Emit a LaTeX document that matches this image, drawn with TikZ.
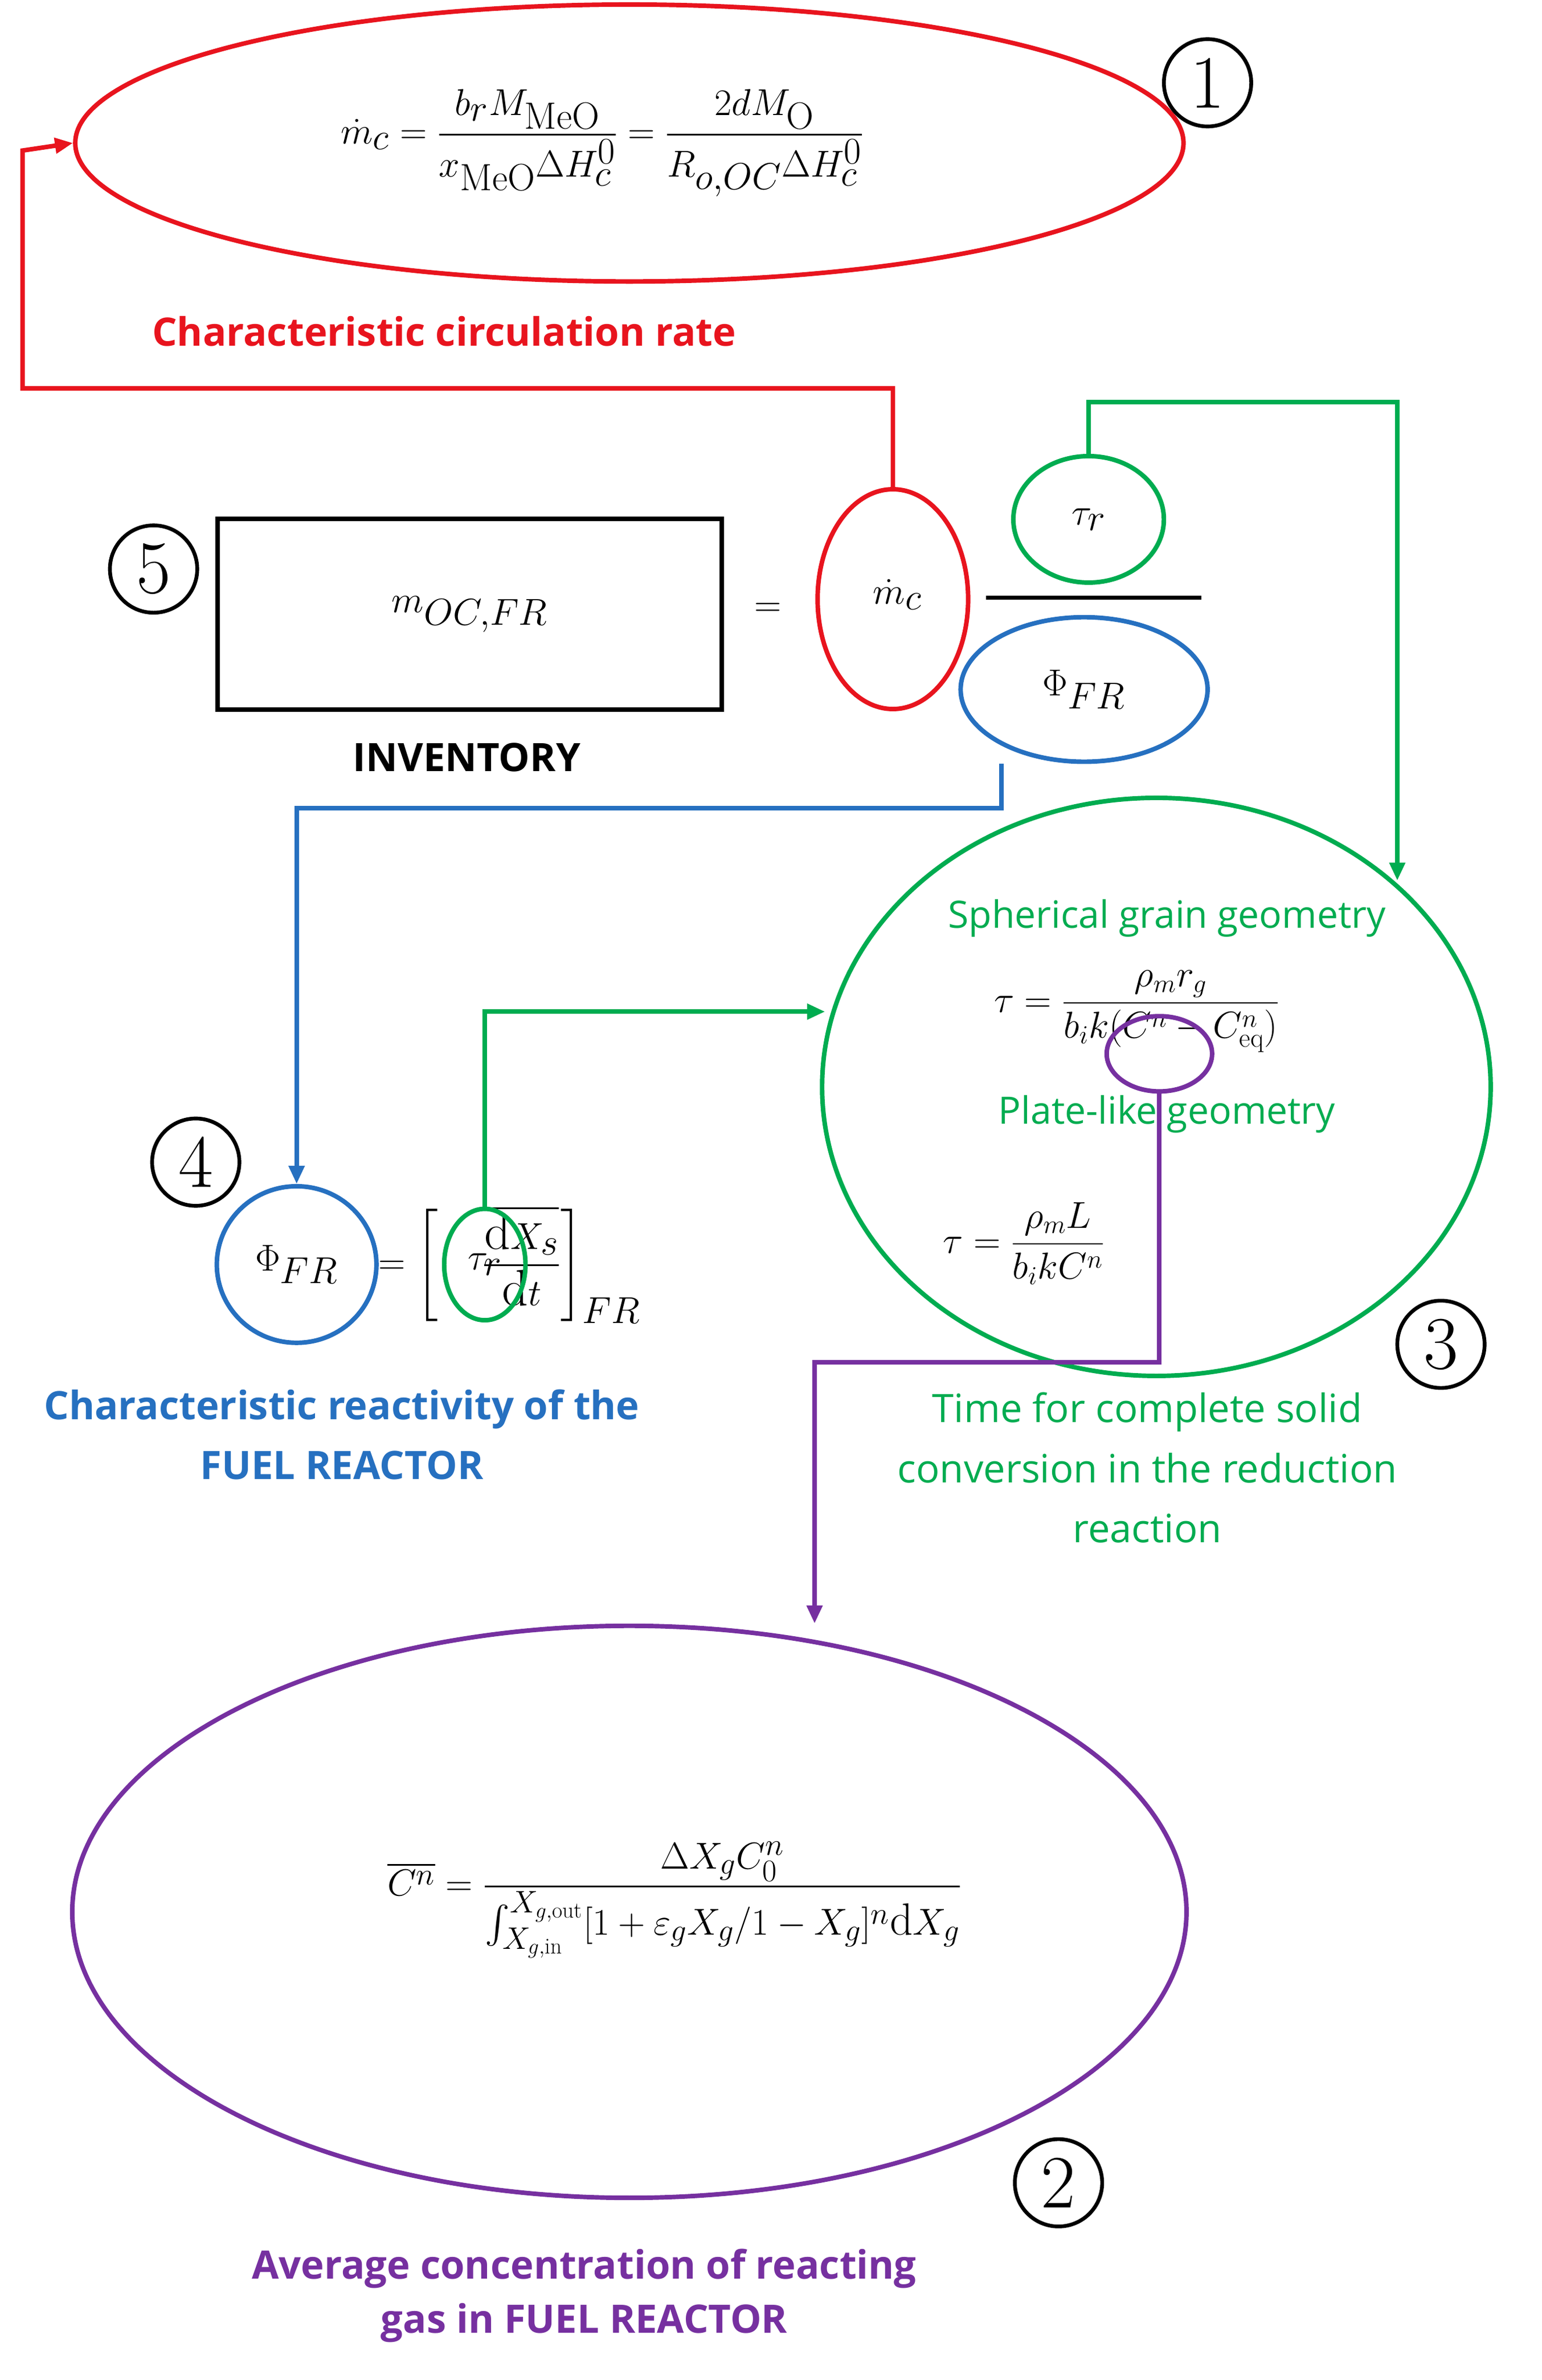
\documentclass[tikz,border=0pt]{standalone}
\usepackage{amsmath}
\usepackage{fontspec}
\newfontfamily\capf{Open Sans}
\definecolor{cred}{RGB}{232,20,30}
\definecolor{cgreen}{RGB}{0,172,80}
\definecolor{cblue}{RGB}{38,112,192}
\definecolor{cpurple}{RGB}{118,48,160}
\usetikzlibrary{arrows.meta}
\tikzset{
  ell/.style={draw,ellipse,line width=3pt,inner sep=0pt},
  conn/.style={line width=3pt,-{Triangle[length=12pt,width=10pt]}},
  connn/.style={line width=3pt},
  captxt/.style={font=\capf\bfseries\fontsize{26}{36}\selectfont,align=center},
  num/.style={draw,circle,line width=2.5pt,minimum size=58pt,inner sep=0pt,font=\fontsize{50}{50}\selectfont},
}
\usetikzlibrary{shapes.geometric}
\begin{document}
\begin{tikzpicture}[x=1pt,y=-1pt]
\useasboundingbox[fill=white] (0,0) rectangle (1024,1581);
% 1
\node[ell,draw=cred,minimum width=736pt,minimum height=184pt] (e1) at (418,95) {};
\node[font=\fontsize{36}{40}\selectfont] (f1) at (400,95) {$\dot m_c=\dfrac{b_r M_{\mathrm{MeO}}}{x_{\mathrm{MeO}}\Delta H_c^0}=\dfrac{2dM_{\mathrm{O}}}{R_{o,OC}\Delta H_c^0}$};
\node[num] (n1) at (802,55) {1};
\node[captxt,text=cred] (c1) at (295,220) {Characteristic circulation rate};
% 5
\node[draw,line width=3pt,minimum width=335pt,minimum height=127pt,font=\fontsize{64}{64}\selectfont] (box) at (312,408) {$m_{OC,FR}$};
\node[num] (n5) at (102,378) {5};
\node[font=\fontsize{64}{64}\selectfont] (eq5) at (510,405) {$=$};
\node[ell,draw=cred,minimum width=100pt,minimum height=146pt] (mc) at (593,398) {};
\node[font=\fontsize{64}{64}\selectfont] (mct) at (596,395) {$\dot m_c$};
\node[ell,draw=cgreen,minimum width=100pt,minimum height=84pt,font=\fontsize{56}{56}\selectfont] (tau) at (723,345) {$\tau_r$};
\node[ell,draw=cblue,minimum width=164pt,minimum height=96pt,font=\fontsize{52}{52}\selectfont] (phi) at (720,458) {$\Phi_{FR}$};
\coordinate (fl1) at (655,397); \coordinate (fl2) at (798,397);
\draw[line width=2.5pt] (fl1) -- (fl2);
\node[font=\capf\bfseries\fontsize{26}{30}\selectfont] (inv) at (310,503) {INVENTORY};
% 3
\node[ell,draw=cgreen,minimum width=444pt,minimum height=384pt] (g3) at (768,722) {};
\node[font=\capf\fontsize{25}{30}\selectfont,text=cgreen] (sg) at (775,610) {Spherical grain geometry};
\node[font=\fontsize{26}{30}\selectfont] (ft1) at (755,672) {$\tau=\dfrac{\rho_m r_g}{b_i k(C^n-C^n_{\mathrm{eq}})}$};
\node[draw=cpurple,ellipse,line width=3pt,minimum width=70pt,minimum height=50pt] (pc) at (770,700) {};
\node[font=\capf\fontsize{25}{30}\selectfont,text=cgreen] (pl) at (775,740) {Plate-like geometry};
\node[font=\fontsize{26}{30}\selectfont] (ft2) at (680,826) {$\tau=\dfrac{\rho_m L}{b_i kC^n}$};
\node[num] (n3) at (957,893) {3};
\node[captxt,text=cgreen,font=\capf\fontsize{26}{40}\selectfont] (c3) at (762,975) {Time for complete solid\\conversion in the reduction\\reaction};
% 4
\node[num] (n4) at (130,772) {4};
\node[ell,draw=cblue,minimum width=106pt,minimum height=104pt,font=\fontsize{34}{34}\selectfont] (phi4) at (197,840) {$\Phi_{FR}$};
\node[font=\fontsize{34}{40}\selectfont,anchor=west] (f4) at (248,840) {$=\left[\;\phantom{\tau_r}\dfrac{\overline{\mathrm{d}X_s}}{\mathrm{d}t}\right]_{FR}$};
\node[ell,draw=cgreen,minimum width=54pt,minimum height=74pt,font=\fontsize{34}{34}\selectfont] (tau4) at (322,840) {$\tau_r$};
\node[captxt,text=cblue,font=\capf\bfseries\fontsize{26}{40}\selectfont] (c4) at (227,953) {Characteristic reactivity of the\\FUEL REACTOR};
% 2
\node[ell,draw=cpurple,minimum width=740pt,minimum height=380pt] (p2) at (418,1270) {};
\node[font=\fontsize{30}{36}\selectfont] (f2) at (448,1262) {$\overline{C^n}=\dfrac{\Delta X_g C_0^n}{\int_{X_{g,\mathrm{in}}}^{X_{g,\mathrm{out}}}[1+\varepsilon_g X_g/1-X_g]^n\mathrm{d}X_g}$};
\node[num] (n2) at (703,1450) {2};
\node[captxt,text=cpurple] (c2) at (388,1525) {Average concentration of reacting\\gas in FUEL REACTOR};
% connectors
\coordinate (r1) at (593,258); \coordinate (r2) at (15,258); \coordinate (r3) at (15,100);
\draw[connn,cred,-{Triangle[length=12pt,width=10pt]}] (mc.north) -- (r1) -- (r2) -- (r3) -- (e1.west);
\coordinate (g1) at (723,267); \coordinate (g2) at (928,267); \coordinate (g3b) at (928,585);
\draw[conn,cgreen] (tau.north) -- (g1) -- (g2) -- (g3b);
\coordinate (b1) at (665,537); \coordinate (b2) at (197,537);
\draw[conn,cblue] (phi.south -| b1) -- (b1) -- (b2) -- (phi4.north);
\coordinate (h1) at (322,672); \coordinate (h2) at (548,672);
\draw[conn,cgreen] (tau4.north) -- (h1) -- (h2);
\coordinate (q1) at (770,905); \coordinate (q2) at (541,905);
\draw[conn,cpurple] (pc.south) -- (q1) -- (q2) -- (p2.north -| q2);
\end{tikzpicture}
\end{document}
